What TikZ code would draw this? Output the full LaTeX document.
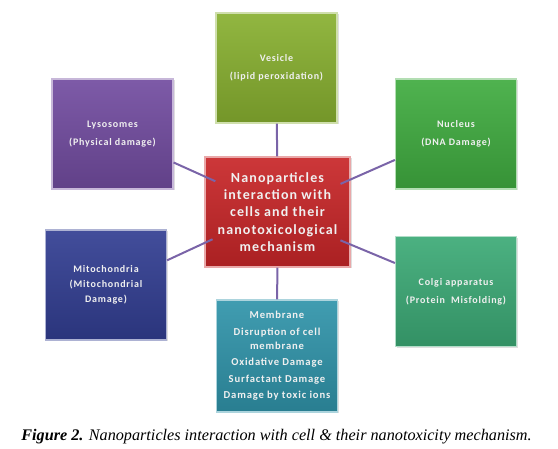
\documentclass[tikz,border=0pt]{standalone}
\usepackage{fontspec}
\setsansfont{Carlito}
\newfontfamily\boxfont[LetterSpace=8]{Carlito}
\newfontfamily\capfont{Liberation Serif}
\usetikzlibrary{shadows}
\definecolor{clink}{RGB}{122,100,168}
\definecolor{cred}{RGB}{200,38,40}
\definecolor{cvesicle}{RGB}{136,176,48}
\definecolor{clyso}{RGB}{114,76,160}
\definecolor{cnucleus}{RGB}{64,172,64}
\definecolor{cmito}{RGB}{50,62,146}
\definecolor{cgolgi}{RGB}{60,170,118}
\definecolor{cmembr}{RGB}{48,148,170}
\tikzset{
  organelle/.style={draw=#1!40!white,line width=1.2pt,top color=#1!92!white,bottom color=#1!85!black,
    minimum width=121,minimum height=110,text=white!94!black,align=center,inner sep=2pt,
    font=\boxfont\bfseries\fontsize{10}{18}\selectfont,
    drop shadow={opacity=0.25,shadow xshift=1.5pt,shadow yshift=-1.5pt}},
  link/.style={clink,line width=2pt}}

\begin{document}
\begin{tikzpicture}[x=1pt,y=-1pt]
    \useasboundingbox (0,0) rectangle (558,449);
    \node[organelle=cvesicle] (vesicle) at (276.5,68) {Vesicle\\(lipid peroxidation)};
    \node[organelle=clyso] (lyso) at (112.5,134) {Lysosomes\\(Physical damage)};
    \node[organelle=cnucleus] (nucleus) at (456,134) {Nucleus\\(DNA Damage)};
    \node[organelle=cmito,font=\boxfont\bfseries\fontsize{10}{15}\selectfont] (mito) at (106,285)
      {Mitochondria\\(Mitochondrial\\Damage)};
    \node[organelle=cgolgi] (golgi) at (456,291.5) {Colgi apparatus\\(Protein\ \ Misfolding)};
    \node[organelle=cmembr,minimum height=112,font=\boxfont\bfseries\fontsize{10.6}{14}\selectfont] (membr) at (277,356)
      {Membrane\\[2.5pt] Disruption of cell\\membrane\\[2.5pt] Oxidative Damage\\[2.5pt] Surfactant Damage\\[2.5pt] Damage by toxic ions};
    \node[organelle=cred,minimum width=145,
      font=\boxfont\bfseries\fontsize{14}{17.3}\selectfont] (hub) at (277.5,212)
      {Nanoparticles\\interaction with\\cells and their\\nanotoxicological\\mechanism};
    \draw[link] (vesicle) -- (hub);
    \draw[link] (hub) -- (membr);
    \draw[link,shorten >=-12pt] (lyso.-25) -- (hub.154);
    \draw[link,shorten >=-11pt] (nucleus.-157) -- (hub.24);
    \draw[link,shorten >=-9pt] (mito.22) -- (hub.203);
    \draw[link,shorten >=-11pt] (golgi.155) -- (hub.-24);
    \node[font=\capfont\fontsize{16.2}{18}\selectfont] (caption) at (276.5,437)
      {\textbf{\textit{Figure 2.}} \textit{Nanoparticles interaction with cell \& their nanotoxicity mechanism.}};
  \end{tikzpicture}
\end{document}
